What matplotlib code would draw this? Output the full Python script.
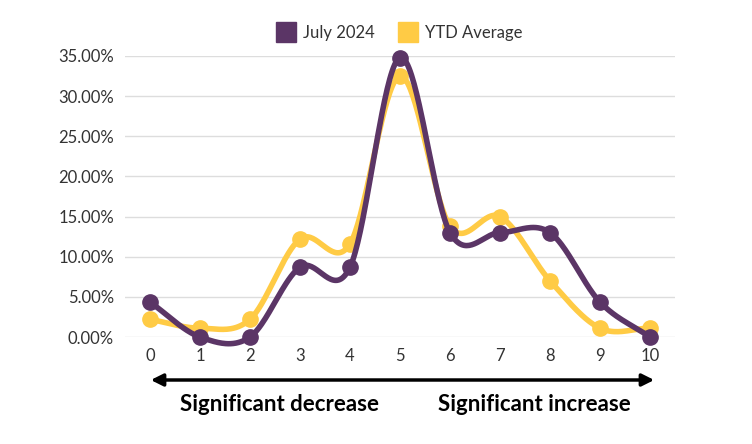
import matplotlib.pyplot as plt
import numpy as np

plt.rcParams['font.family'] = ['Lato', 'DejaVu Sans']

scores = list(range(11))
july_2024 = [4.35, 0.0, 0.0, 8.7, 8.7, 34.8, 13.0, 13.0, 13.0, 4.35, 0.0]
ytd_avg = [2.2, 1.1, 2.2, 12.2, 11.6, 32.5, 13.8, 15.0, 7.0, 1.1, 1.1]

purple = '#5B3566'
yellow = '#FFCB45'


def smooth(x, y, n=40):
    # Catmull-Rom curve through the points
    x = np.asarray(x, float)
    y = np.asarray(y, float)
    px = np.concatenate([[2 * x[0] - x[1]], x, [2 * x[-1] - x[-2]]])
    py = np.concatenate([[2 * y[0] - y[1]], y, [2 * y[-1] - y[-2]]])
    xs, ys = [], []
    t = np.linspace(0, 1, n)
    for i in range(1, len(px) - 2):
        for p, out in ((px, xs), (py, ys)):
            p0, p1, p2, p3 = p[i - 1], p[i], p[i + 1], p[i + 2]
            out.extend(0.5 * (2 * p1 + (-p0 + p2) * t
                              + (2 * p0 - 5 * p1 + 4 * p2 - p3) * t ** 2
                              + (-p0 + 3 * p1 - 3 * p2 + p3) * t ** 3))
    return xs, ys


fig = plt.figure(figsize=(7.52, 4.44), dpi=100)
ax = fig.add_axes([125 / 752, 1 - 337 / 444, 550 / 752, 281 / 444])

for vals, col, z in ((ytd_avg, yellow, 2), (july_2024, purple, 3)):
    sx, sy = smooth(scores, vals)
    ax.plot(sx, sy, color=col, lw=4, zorder=z, solid_capstyle='round', clip_on=False)
    ax.plot(scores, vals, 'o', color=col, ms=11, zorder=z, clip_on=False)

ax.plot([], [], 's', color=purple, ms=14, label='July 2024')
ax.plot([], [], 's', color=yellow, ms=14, label='YTD Average')

ax.set_xlim(-0.5, 10.5)
ax.set_ylim(0, 35)
ax.set_xticks(scores)
ax.set_yticks(np.arange(0, 36, 5))
ax.set_yticklabels([f'{v:.2f}%' for v in np.arange(0, 36, 5)])
ax.grid(axis='y', color='#dddddd', lw=1)
ax.set_axisbelow(True)
for s in ax.spines.values():
    s.set_visible(False)
ax.tick_params(length=0, labelsize=12, colors='#333333', pad=8)
ax.legend(loc='lower center', bbox_to_anchor=(0.5, 1.0), ncol=2, frameon=False,
          fontsize=12, handlelength=1, handletextpad=0.5, columnspacing=1.5,
          labelcolor='#333333')

fig.add_artist(plt.Annotation('', xy=(657 / 752, 1 - 380 / 444), xytext=(148 / 752, 1 - 380 / 444),
                              xycoords='figure fraction',
                              arrowprops=dict(arrowstyle='<|-|>', color='black', lw=2.5,
                                              mutation_scale=18)))
fig.text(280 / 752, 1 - 404 / 444, 'Significant decrease', ha='center', va='center',
         fontsize=16, fontweight='bold')
fig.text(534 / 752, 1 - 404 / 444, 'Significant increase', ha='center', va='center',
         fontsize=16, fontweight='bold')

fig.savefig('out.png', dpi=100)
